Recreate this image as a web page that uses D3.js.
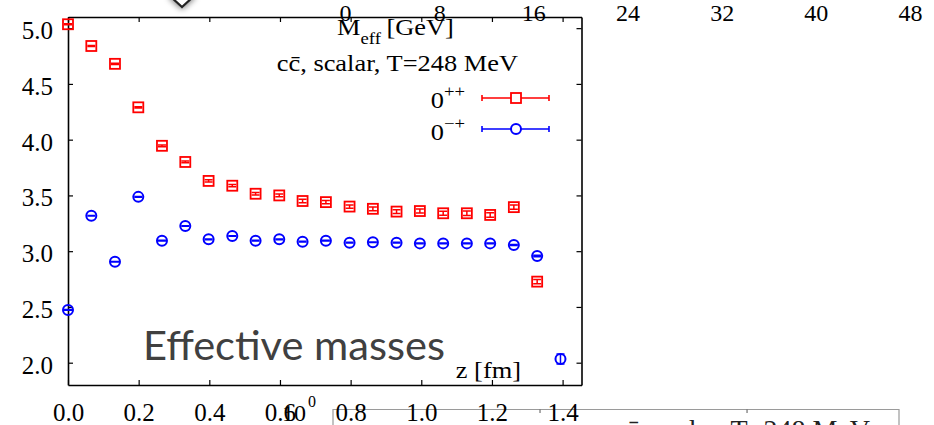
<!DOCTYPE html>
<html>
<head>
<meta charset="utf-8">
<script src="https://cdn.jsdelivr.net/npm/d3@7"></script>
<style>
  html, body { margin: 0; padding: 0; background: #fff; }
  svg { display: block; }
</style>
</head>
<body>
<svg id="chart" width="934" height="425"></svg>
<script>
// Separation z along the lattice (fm)
const zValues = [0, 0.066, 0.133, 0.199, 0.266, 0.332, 0.398, 0.465, 0.531, 0.598, 0.664,
                 0.730, 0.797, 0.863, 0.930, 0.996, 1.062, 1.129, 1.195, 1.262, 1.328, 1.394];

// Effective masses M_eff [GeV], scalar 0++ channel
const scalarMass = [5.035, 4.84, 4.68, 4.29, 3.945, 3.80, 3.63, 3.587, 3.515, 3.50, 3.45,
                    3.44, 3.40, 3.38, 3.355, 3.36, 3.34, 3.34, 3.325, 3.395, 2.727];
const scalarErr  = [0.004, 0.005, 0.005, 0.006, 0.008, 0.008, 0.010, 0.010, 0.012, 0.012, 0.015,
                    0.015, 0.015, 0.017, 0.017, 0.018, 0.018, 0.020, 0.020, 0.020, 0.020];

// Effective masses M_eff [GeV], pseudoscalar 0-+ channel
const pseudoMass = [2.473, 3.318, 2.905, 3.487, 3.094, 3.226, 3.106, 3.136, 3.094, 3.106, 3.085,
                    3.094, 3.076, 3.080, 3.076, 3.070, 3.070, 3.070, 3.070, 3.056, 2.957, 2.033];
const pseudoErr  = [0.003, 0.003, 0.003, 0.003, 0.003, 0.003, 0.003, 0.003, 0.003, 0.003, 0.003,
                    0.003, 0.003, 0.003, 0.003, 0.003, 0.003, 0.003, 0.003, 0.004, 0.006, 0.045];

const xTicks = [0.0, 0.2, 0.4, 0.6, 0.8, 1.0, 1.2, 1.4];
const yTicks = [2.0, 2.5, 3.0, 3.5, 4.0, 4.5, 5.0];
const latticeTicks = [0, 8, 16, 24, 32, 40, 48];   // lattice-unit scale of the second panel
const insetTicks = [1, 2];

const seriesNames = ["0++", "0-+"];
const channelLabel = "cc\u0304, scalar, T=248 MeV";

const serif = "'Liberation Serif', 'Times New Roman', serif";
const RED = "#ff0000", BLUE = "#0000ff";
const STRETCH = 1.1;   // annotation text is set slightly wide

const svg = d3.select("#chart");
const plot = { left: 68, right: 581.5, top: 17, bottom: 385 };

const x = d3.scaleLinear().domain([0, 1.4535]).range([plot.left, plot.right]);
const y = d3.scaleLinear().domain([1.8, 5.1]).range([plot.bottom, plot.top]);

// text anchored at (ax, ay), widened horizontally
function wideText(parent, ax, ay, anchor, size) {
  return parent.append("g").attr("transform", `translate(${ax},${ay}) scale(${STRETCH},1)`)
    .append("text").attr("x", 0).attr("y", 0).attr("text-anchor", anchor)
    .attr("font-family", serif).attr("font-size", size).attr("fill", "#000");
}

// drop shadow for the slide pointer
const defs = svg.append("defs");
const sh = defs.append("filter").attr("id", "shadow").attr("x", "-80%").attr("y", "-80%")
  .attr("width", "260%").attr("height", "260%");
sh.append("feGaussianBlur").attr("in", "SourceAlpha").attr("stdDeviation", 3).attr("result", "b");
sh.append("feOffset").attr("in", "b").attr("dx", 0).attr("dy", 1).attr("result", "o");
sh.append("feComponentTransfer").attr("in", "o").attr("result", "s")
  .append("feFuncA").attr("type", "linear").attr("slope", 0.55);
const m = sh.append("feMerge");
m.append("feMergeNode").attr("in", "s");
m.append("feMergeNode").attr("in", "SourceGraphic");

// ---- second panel peeking in at the bottom (frame, ticks, label) ----
const inset = d3.scaleLinear().domain([0, 2.734]).range([333, 899]);
const insetG = svg.append("g");
insetG.append("path")
  .attr("d", `M${inset.range()[0]},426V409.5H${inset.range()[1]}V426`)
  .attr("fill", "none").attr("stroke", "#9a9a9a").attr("stroke-width", 1.2);
insetG.selectAll("line.itick").data(insetTicks).join("line")
  .attr("x1", d => inset(d)).attr("x2", d => inset(d))
  .attr("y1", 409.5).attr("y2", 413).attr("stroke", "#555").attr("stroke-width", 1);
insetG.append("text")
  .attr("x", 870).attr("y", 439).attr("text-anchor", "end")
  .attr("font-family", serif).attr("font-size", 28).attr("fill", "#222")
  .text(channelLabel);
insetG.append("circle").attr("cx", 334).attr("cy", 431).attr("r", 5)
  .attr("fill", "none").attr("stroke", BLUE).attr("stroke-width", 2);

// ---- axes / frame ----
function styleAxis(g) {
  g.select(".domain").attr("stroke", "#000").attr("stroke-width", 1.6);
  g.selectAll(".tick line").attr("stroke", "#000").attr("stroke-width", 1.2);
  g.selectAll("text").attr("font-family", serif).attr("font-size", 25).attr("fill", "#000");
}
const fmt = d3.format(".1f");

const gx = svg.append("g").attr("transform", `translate(0,${plot.bottom})`)
  .call(d3.axisBottom(x).tickValues(xTicks).tickFormat(fmt).tickSizeInner(-5).tickSizeOuter(0).tickPadding(0))
  .call(styleAxis);
gx.selectAll("text").attr("dy", null).attr("y", 36);

const gy = svg.append("g").attr("transform", `translate(${plot.left},0)`)
  .call(d3.axisLeft(y).tickValues(yTicks).tickFormat(fmt).tickSizeInner(-5).tickSizeOuter(0).tickPadding(15))
  .call(styleAxis);
gy.selectAll("text").attr("dy", "0.42em");

svg.append("g").attr("transform", `translate(0,${plot.top})`)
  .call(d3.axisTop(x).tickValues(xTicks).tickFormat("").tickSizeInner(-5).tickSizeOuter(0))
  .call(styleAxis);
svg.append("g").attr("transform", `translate(${plot.right},0)`)
  .call(d3.axisRight(y).tickValues(yTicks).tickFormat("").tickSizeInner(-5).tickSizeOuter(0))
  .call(styleAxis);

// lattice-unit labels from the neighbouring panel along the top
const lat = d3.scaleLinear().domain([0, 48]).range([345, 910]);
const gl = svg.append("g").attr("transform", "translate(0,21)")
  .call(d3.axisTop(lat).tickValues(latticeTicks).tickSize(0).tickPadding(0))
  .call(styleAxis);
gl.select(".domain").remove();
gl.selectAll("text").attr("font-size", 24);

// stray power-of-ten label overlapping the 0.6 tick
const pw = svg.append("text").attr("x", 282).attr("y", 421)
  .attr("font-family", serif).attr("font-size", 24).attr("fill", "#000");
pw.append("tspan").text("10");
pw.append("tspan").attr("dx", 2).attr("dy", -14).attr("font-size", 16).text("0");

// ---- data ----
function drawErrors(g, xs, ys, es, color) {
  const cap = 4;
  const d = ys.map((v, i) => ({ z: xs[i], v, e: es[i] }));
  const eg = g.append("g").attr("stroke", color).attr("stroke-width", 1.5).attr("fill", "none");
  eg.selectAll("path").data(d).join("path")
    .attr("d", p => {
      const cx = x(p.z), y0 = y(p.v - p.e), y1 = y(p.v + p.e);
      return `M${cx},${y0}V${y1}M${cx - cap},${y0}H${cx + cap}M${cx - cap},${y1}H${cx + cap}`;
    });
  return d;
}

const gS = svg.append("g");
const dS = drawErrors(gS, zValues, scalarMass, scalarErr, RED);
gS.selectAll("rect").data(dS).join("rect")
  .attr("x", p => x(p.z) - 5).attr("y", p => y(p.v) - 5)
  .attr("width", 10).attr("height", 10)
  .attr("fill", "none").attr("stroke", RED).attr("stroke-width", 1.8);

const gP = svg.append("g");
const dP = drawErrors(gP, zValues, pseudoMass, pseudoErr, BLUE);
gP.selectAll("circle").data(dP).join("circle")
  .attr("cx", p => x(p.z)).attr("cy", p => y(p.v)).attr("r", 5)
  .attr("fill", "none").attr("stroke", BLUE).attr("stroke-width", 2);

// ---- labels ----
const yl = wideText(svg, 337, 35, "start", 24);
yl.append("tspan").text("M");
yl.append("tspan").attr("dy", 9).attr("font-size", 17).text("eff");
yl.append("tspan").attr("dy", -9).attr("dx", 5).text("[GeV]");

wideText(svg, 518, 71, "end", 24).text(channelLabel);

wideText(svg, 521, 378, "end", 24).text("z [fm]");

// legend
const legendRows = [
  { name: seriesNames[0], base: "0", sup: "++", color: RED, shape: "square", ly: 98, ty: 108 },
  { name: seriesNames[1], base: "0", sup: "\u2212+", color: BLUE, shape: "circle", ly: 129, ty: 140 }
];
const lg = svg.append("g");
legendRows.forEach(r => {
  const t = wideText(lg, 465, r.ty, "end", 24);
  t.append("tspan").text(r.base);
  t.append("tspan").attr("dy", -11).attr("font-size", 17).text(r.sup);
  lg.append("path")
    .attr("d", `M482,${r.ly}H549M482,${r.ly - 3}V${r.ly + 3}M549,${r.ly - 3}V${r.ly + 3}`)
    .attr("stroke", r.color).attr("stroke-width", 1.6).attr("fill", "none");
  if (r.shape === "square") {
    lg.append("rect").attr("x", 511).attr("y", r.ly - 5).attr("width", 10).attr("height", 10)
      .attr("fill", "#fff").attr("stroke", r.color).attr("stroke-width", 1.8);
  } else {
    lg.append("circle").attr("cx", 516).attr("cy", r.ly).attr("r", 5)
      .attr("fill", "#fff").attr("stroke", r.color).attr("stroke-width", 2);
  }
});

// slide title overlay
svg.append("text").attr("x", 143).attr("y", 360)
  .attr("font-family", "Lato, 'Open Sans', sans-serif").attr("font-size", 41)
  .attr("fill", "#404040")
  .attr("textLength", 302).attr("lengthAdjust", "spacingAndGlyphs")
  .text("Effective masses");

// pointer handle at the top edge
svg.append("path")
  .attr("d", "M182,-16L194,-4L182,7L170,-4Z")
  .attr("fill", "#fff").attr("stroke", "#222").attr("stroke-width", 2.2)
  .attr("filter", "url(#shadow)");
</script>
</body>
</html>
